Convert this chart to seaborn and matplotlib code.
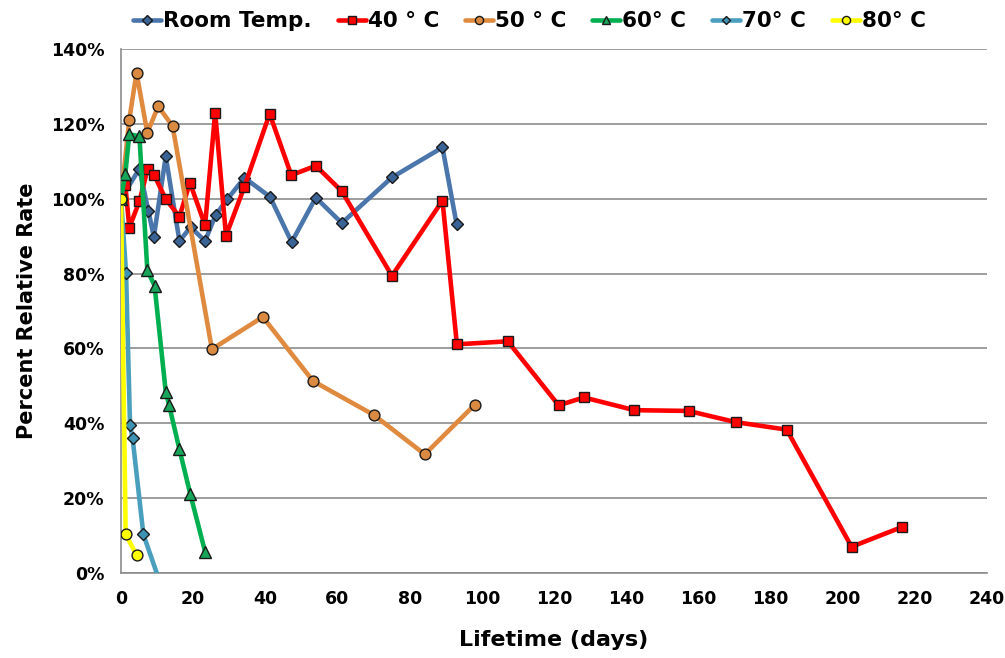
import matplotlib
matplotlib.use("Agg")
import matplotlib.pyplot as plt
import seaborn as sns
import pandas as pd
from matplotlib.ticker import PercentFormatter, MultipleLocator

# ---- data (days, percent relative rate) ----
series_names = ["Room Temp.", "40 ° C", "50 ° C", "60° C", "70° C", "80° C"]

days_room = [0, 5.1, 7.6, 9.1, 12.4, 16.2, 19.3, 23.3, 26.2, 29.5, 34.2, 41.3,
             47.3, 54, 61.2, 75.1, 89.1, 93]
rate_room = [100, 108, 96.7, 89.8, 111.3, 88.7, 92.4, 88.7, 95.6, 99.9, 105.6, 100.5,
             88.4, 100.3, 93.5, 105.7, 113.7, 93.3]

days_40 = [0, 1.2, 2.3, 5.1, 7.4, 9.2, 12.4, 16.2, 19.1, 23.3, 26.1, 29.1, 34.2,
           41.2, 47.2, 54, 61.2, 75.1, 89.1, 93.1, 107.2, 121.3, 128.3, 142.3,
           157.3, 170.4, 184.5, 202.5, 216.5]
rate_40 = [100, 103.6, 92.3, 99.3, 108, 106.3, 99.9, 95.2, 104.3, 92.9, 123, 90.1, 103.2,
           122.7, 106.3, 108.8, 102, 79.4, 99.5, 61.1, 61.9, 44.8, 46.9, 43.5,
           43.3, 40.3, 38.3, 7.0, 12.3]

days_50 = [0, 2.3, 4.3, 7.3, 10.3, 14.3, 25.2, 39.3, 53.2, 70.1, 84.2, 98]
rate_50 = [100, 121.1, 133.7, 117.6, 124.7, 119.4, 59.8, 68.4, 51.3, 42.2, 31.7, 44.9]

days_60 = [0, 1.2, 2.3, 5.1, 7.3, 9.3, 12.4, 13.3, 16.2, 19.2, 23.3]
rate_60 = [100, 106.7, 117.2, 116.7, 80.9, 76.8, 48.4, 45.0, 33.0, 21.1, 5.7]

days_70 = [0, 1.4, 2.5, 3.2, 6.2, 10.8]
rate_70 = [100, 80.2, 39.5, 36.1, 10.3, -2.5]

days_80 = [0, 1.3, 4.3]
rate_80 = [100, 10.3, 4.8]

x_ticks = list(range(0, 241, 20))

# ---- styles ----
line_colors = ["#4A76AC", "#FF0000", "#DF8A3F", "#00B050", "#4A9FBE", "#FFFF00"]
marker_faces = ["#3A6396", "#FF0000", "#DB8A41", "#18A55A", "#3E93B4", "#FFFF00"]
markers = ["D", "s", "o", "^", "D", "o"]
msizes = [6.2, 7.6, 7.8, 8.2, 5.8, 7.8]

all_days = [days_room, days_40, days_50, days_60, days_70, days_80]
all_rates = [rate_room, rate_40, rate_50, rate_60, rate_70, rate_80]

frames = []
for name, d, r in zip(series_names, all_days, all_rates):
    frames.append(pd.DataFrame({"series": name, "day": d, "rate": [v / 100 for v in r]}))
df = pd.concat(frames, ignore_index=True)

sns.set_theme(style="white")
plt.rcParams["font.family"] = ["DejaVu Sans"]
plt.rcParams["text.color"] = "black"
plt.rcParams["axes.labelcolor"] = "black"
plt.rcParams["xtick.color"] = "black"
plt.rcParams["ytick.color"] = "black"

fig = plt.figure(figsize=(10.05, 6.58), dpi=100)
ax = fig.add_axes([0.1204, 0.1292, 0.8616, 0.7963])

for i, name in enumerate(series_names):
    sub = df[df["series"] == name]
    sns.lineplot(data=sub, x="day", y="rate", ax=ax, sort=False, estimator=None,
                 color=line_colors[i], linewidth=3.3, marker=markers[i],
                 markersize=msizes[i], markerfacecolor=marker_faces[i],
                 markeredgecolor="#1a1a1a", markeredgewidth=1.0, label=name,
                 zorder=3 + i)

ax.set_xlim(0, 240)
ax.set_ylim(0, 1.4)
ax.set_xticks(x_ticks)
ax.yaxis.set_major_locator(MultipleLocator(0.2))
ax.yaxis.set_major_formatter(PercentFormatter(1.0, decimals=0))

ax.grid(axis="y", color="#8c8c8c", linewidth=1.2, zorder=0)
ax.grid(axis="x", visible=False)
for s in ["top", "right"]:
    ax.spines[s].set_visible(False)
for s in ["left", "bottom"]:
    ax.spines[s].set_color("#8c8c8c")
    ax.spines[s].set_linewidth(1.2)

ax.tick_params(axis="both", which="major", direction="out", length=6, width=1.2,
               color="#8c8c8c", labelcolor="black", labelsize=12.5, pad=6)
for lab in ax.get_xticklabels() + ax.get_yticklabels():
    lab.set_fontweight("heavy")

ax.set_xlabel("Lifetime (days)", fontsize=16, fontweight="heavy", labelpad=16,
              color="black")
ax.set_ylabel("Percent Relative Rate", fontsize=15, fontweight="heavy", labelpad=10,
              color="black")

handles, labels = ax.get_legend_handles_labels()
if ax.get_legend() is not None:
    ax.get_legend().remove()
leg = fig.legend(handles, labels, loc="upper center", bbox_to_anchor=(0.527, 1.012),
                 ncol=6, frameon=False, handlelength=1.3, handletextpad=0.1,
                 columnspacing=1.2, markerscale=0.75, labelcolor="black",
                 prop={"weight": "heavy", "size": 15.5})

fig.savefig("out.png", dpi=100)
